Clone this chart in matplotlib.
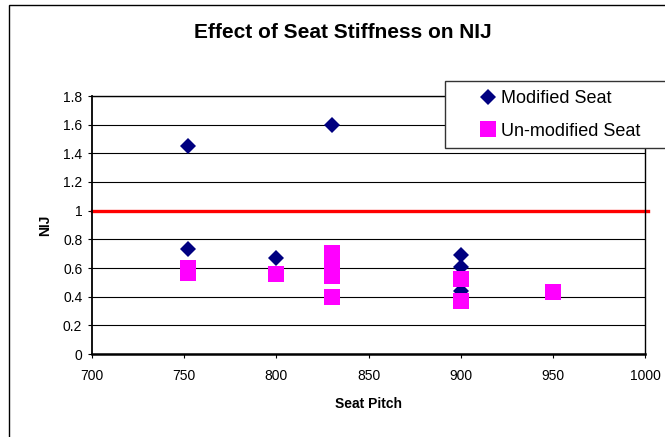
import matplotlib
matplotlib.use("Agg")
import matplotlib.pyplot as plt
from matplotlib.patches import Rectangle

plt.rcParams['font.family'] = ['Liberation Sans', 'DejaVu Sans']

# Modified Seat (diamantes azul marino)
mod_x = [752, 752, 800, 830, 830, 900, 900, 900]
mod_y = [1.45, 0.73, 0.67, 1.60, 0.62, 0.69, 0.61, 0.44]

# Un-modified Seat (cuadrados magenta)
unmod_x = [752, 752, 800, 830, 830, 830, 830, 900, 900, 950]
unmod_y = [0.60, 0.565, 0.56, 0.705, 0.59, 0.545, 0.40, 0.52, 0.37, 0.43]

limite = 1.0

x_ticks = [700, 750, 800, 850, 900, 950, 1000]
y_ticks = [0, 0.2, 0.4, 0.6, 0.8, 1, 1.2, 1.4, 1.6, 1.8]
y_labels = ['0', '0.2', '0.4', '0.6', '0.8', '1', '1.2', '1.4', '1.6', '1.8']

W, H = 665, 437
fig = plt.figure(figsize=(6.65, 4.37), dpi=100)
ax = fig.add_axes([92 / W, 1 - 354 / H, (645 - 92) / W, (354 - 96) / H])

# borde exterior del grafico
fig.patches.append(Rectangle((9 / W, -0.1), 1.2, 1 - 5 / H + 0.1, transform=fig.transFigure,
                             fill=False, edgecolor='black', lw=1.0))

ax.set_xlim(700, 1000)
ax.set_ylim(0, 1.8)
ax.set_xticks(x_ticks)
ax.set_yticks(y_ticks)
ax.set_yticklabels(y_labels)
ax.tick_params(axis='both', direction='out', length=3, width=0.8, labelsize=10, pad=4)
ax.tick_params(axis='x', pad=8)
ax.grid(axis='y', color='black', lw=0.8)
ax.set_axisbelow(True)
for s in ax.spines.values():
    s.set_linewidth(1.0)
ax.spines['bottom'].set_linewidth(1.8)
ax.spines['left'].set_linewidth(1.3)

ax.axhline(limite, xmin=0, xmax=1.006, color='#FF0000', lw=2.4, clip_on=False, zorder=2)

h1, = ax.plot(mod_x, mod_y, 'D', color='#000080', markersize=8.2, markeredgewidth=0,
              linestyle='none', zorder=3, clip_on=False)
h2, = ax.plot(unmod_x, unmod_y, 's', color='#FF00FF', markersize=11.3, markeredgewidth=0,
              linestyle='none', zorder=4, clip_on=False)

ax.set_xlabel('Seat Pitch', fontsize=10, fontweight='bold', labelpad=10)
ax.set_ylabel('NIJ', fontsize=10, fontweight='bold', labelpad=8)
fig.text(343 / W, 1 - 33 / H, 'Effect of Seat Stiffness on NIJ', ha='center', va='center',
         fontsize=15, fontweight='bold')

# recuadro de la leyenda
fig.patches.append(Rectangle((445 / W, 1 - 148 / H), 0.5, 67 / H, transform=fig.transFigure,
                             facecolor='white', edgecolor='#333333', lw=1.0, zorder=5))
leg = fig.legend([h1, h2], ['Modified Seat', 'Un-modified Seat'], loc='center left',
                 bbox_to_anchor=(479 / W, 1 - 115 / H), frameon=False, fontsize=13,
                 handlelength=1.0, handletextpad=0.2, labelspacing=0.85, borderpad=0,
                 borderaxespad=0)
leg.set_zorder(6)

fig.savefig('out.png', dpi=100)
